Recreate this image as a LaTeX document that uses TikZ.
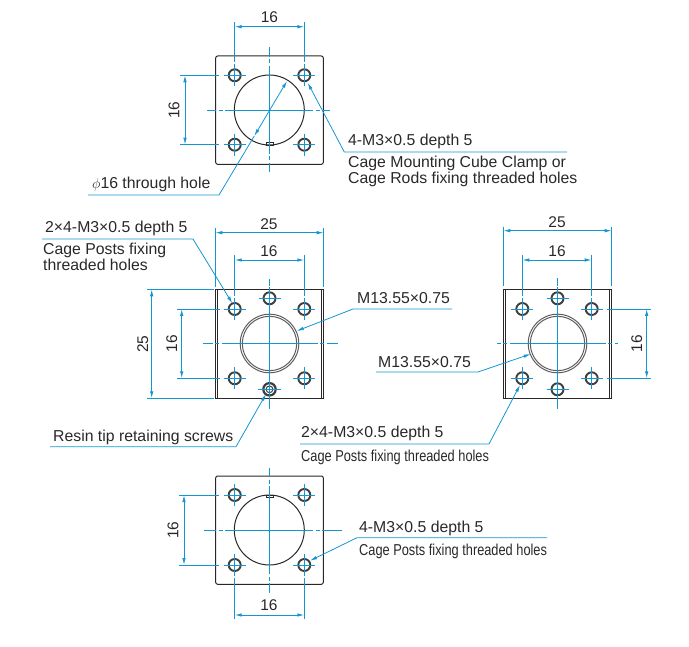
\documentclass[tikz,border=0pt]{standalone}
\usepackage{fontspec}
\setmainfont{Liberation Sans}
\newfontfamily\condfont[FakeStretch=0.81]{Liberation Sans}
\usetikzlibrary{arrows.meta}
\definecolor{dimblue}{HTML}{1496D2}
\definecolor{inkgrey}{HTML}{2B2728}
\tikzset{
  plate/.style={draw=inkgrey,line width=1pt},
  boltring/.style={draw=inkgrey!90,line width=1.9pt},
  portring/.style={draw=inkgrey!75,line width=1pt},
  dimline/.style={dimblue,line width=0.9pt,{Latex[length=7pt,width=3.5pt]}-{Latex[length=7pt,width=3.5pt]}},
  extline/.style={dimblue,line width=0.9pt},
  leaderline/.style={dimblue,line width=0.8pt,-{Latex[length=7pt,width=3.5pt]}},
  dimlabel/.style={inkgrey,inner sep=0pt,font=\fontsize{15.5}{17}\selectfont},
  notelabel/.style={inkgrey,inner sep=0pt,anchor=base west,font=\fontsize{15.8}{18}\selectfont},
  smalllabel/.style={inkgrey,inner sep=0pt,anchor=base west,font=\condfont\fontsize{15.8}{18}\selectfont}
}
% one threaded hole with its short cross mark
\newcommand{\bolthole}[2]{
  \draw[boltring,fill=white] (#1,#2) circle (6);
  \draw[extline] (#1-11,#2) -- (#1+11,#2) (#1,#2-11) -- (#1,#2+11);
}
% centre lines of a view, broken once on each arm: cx, cy, left, right, top, bottom, break distance
\newcommand{\viewaxes}[7]{
  \draw[extline] (#1-#7,#2) -- (#1+#7,#2) (#1,#2-#7) -- (#1,#2+#7);
  \draw[extline] (#1-#7-2.5,#2) -- (#1-#7-6.5,#2) (#1-#7-9,#2) -- (#3,#2);
  \draw[extline] (#1+#7+2.5,#2) -- (#1+#7+6.5,#2) (#1+#7+9,#2) -- (#4,#2);
  \draw[extline] (#1,#2-#7-2.5) -- (#1,#2-#7-6.5) (#1,#2-#7-9) -- (#1,#5);
  \draw[extline] (#1,#2+#7+2.5) -- (#1,#2+#7+6.5) (#1,#2+#7+9) -- (#1,#6);
}
\begin{document}
\begin{tikzpicture}[x=1pt,y=-1pt]
  \useasboundingbox (0,0) rectangle (689,647);

  % top view
  \draw[plate,rounded corners=2pt] (215.7,56) rectangle (323.3,164.3);
  \draw[plate] (269.3,110) circle (35);
  \draw[plate,line width=0.6pt] (266,145) rectangle (273,142.5);
  \foreach \hx in {234.7,304.3}
    \foreach \hy in {75.3,144.7}
      {\bolthole{\hx}{\hy}}
  \viewaxes{269.3}{110}{207}{330}{47}{172}{44}
  \draw[extline] (234.7,22) -- (234.7,62) (304.3,22) -- (304.3,62);
  \draw[extline] (180,75.3) -- (219,75.3) (180,144.7) -- (219,144.7);
  \draw[dimline] (234.7,26.7) -- (304.3,26.7);
  \draw[dimline] (185,75.3) -- (185,144.7);
  \node[dimlabel] (topwidth) at (269.5,17.5) {16};
  \node[dimlabel,rotate=90] (topheight) at (174,110) {16};

  \coordinate (thruend) at (88,195);
  \coordinate (thrubend) at (219,195);
  \draw[leaderline,{Latex[length=7pt,width=3.5pt]}-{Latex[length=7pt,width=3.5pt]}] (254.3,136) -- (287,81);
  \draw[extline,line width=0.8pt] (thruend) -- (thrubend) -- (254.3,136);
  \node[notelabel] (thrulabel) at (92,189) {$\phi$16 through hole};

  \coordinate (cubeend) at (567,152);
  \coordinate (cubebend) at (344.3,152);
  \coordinate (cubetip) at (307.7,82.7);
  \draw[leaderline] (cubeend) -- (cubebend) -- (cubetip);
  \node[notelabel] (cubethread) at (348,146) {4-M3×0.5 depth 5};
  \node[notelabel] (cubeclamp) at (348,168) {Cage Mounting Cube Clamp or};
  \node[notelabel] (cuberods) at (348,184) {Cage Rods fixing threaded holes};

  % left middle view
  \draw[plate] (215.3,289.3) rectangle (323.7,398.3);
  \draw[plate,line width=0.5pt] (217.7,289.3) -- (217.7,398.3) (321.7,289.3) -- (321.7,398.3);
  \draw[portring] (269.5,343.5) circle (29.3) circle (27.2);
  \foreach \hx in {234.7,304.3}
    \foreach \hy in {309,378.3}
      {\bolthole{\hx}{\hy}}
  \bolthole{269.5}{298.3}
  \viewaxes{269.5}{343.5}{203}{338}{279}{409}{48}
  \draw[boltring,line width=2.2pt] (269.5,389.3) circle (6.2);
  \draw[boltring,line width=1pt] (269.5,389.3) circle (3.4);
  \draw[extline] (269.5,378) -- (269.5,400) (258,389.3) -- (281,389.3);
  \draw[extline] (215.3,228) -- (215.3,287) (323.7,228) -- (323.7,287);
  \draw[extline] (234.7,255) -- (234.7,296) (304.3,255) -- (304.3,296);
  \draw[extline] (147,289.3) -- (214,289.3) (147,398.3) -- (214,398.3);
  \draw[extline] (177,309) -- (220,309) (177,378.3) -- (220,378.3);
  \draw[dimline] (215.3,232.7) -- (323.7,232.7);
  \draw[dimline] (234.7,260) -- (304.3,260);
  \draw[dimline] (151.7,289.3) -- (151.7,398.3);
  \draw[dimline] (181.7,309) -- (181.7,378.3);
  \node[dimlabel] (midwidth) at (269,224) {25};
  \node[dimlabel] (midpitch) at (269,251) {16};
  \node[dimlabel,rotate=90] (midheight) at (142.7,344) {25};
  \node[dimlabel,rotate=90] (midrise) at (171.7,343.5) {16};

  \coordinate (postend) at (42,239);
  \coordinate (postbend) at (193,239);
  \draw[leaderline] (postend) -- (postbend) -- (232.3,303.3);
  \node[notelabel] (postthread) at (45,232.5) {2×4-M3×0.5 depth 5};
  \node[notelabel] (postfix) at (43,255) {Cage Posts fixing};
  \node[notelabel] (postholes) at (43,271) {threaded holes};

  \coordinate (portend) at (452,309);
  \coordinate (portbend) at (353,309);
  \draw[leaderline] (portend) -- (portbend) -- (296.7,331);
  \node[notelabel] (portlabel) at (357,304) {M13.55×0.75};

  \coordinate (resinend) at (50,446.7);
  \coordinate (resinbend) at (236,446.7);
  \draw[leaderline] (resinend) -- (resinbend) -- (266,394);
  \node[notelabel] (resinlabel) at (53,442) {Resin tip retaining screws};

  % right middle view
  \draw[plate] (503.3,289.3) rectangle (611.7,398.3);
  \draw[plate,line width=0.5pt] (505.3,289.3) -- (505.3,398.3) (609.3,289.3) -- (609.3,398.3);
  \draw[portring] (557.5,343.5) circle (29.3) circle (27.2);
  \foreach \hx in {522.3,591.7}
    \foreach \hy in {309,378.3}
      {\bolthole{\hx}{\hy}}
  \bolthole{557.5}{298.3}
  \bolthole{557.5}{389.3}
  \viewaxes{557.5}{343.5}{497}{618}{278}{409}{48}
  \draw[extline] (503.3,226.7) -- (503.3,286) (611.7,226.7) -- (611.7,286);
  \draw[extline] (522.3,255) -- (522.3,296) (591.7,255) -- (591.7,296);
  \draw[extline] (607,309) -- (651,309) (607,378.3) -- (651,378.3);
  \draw[dimline] (503.3,230.7) -- (611.7,230.7);
  \draw[dimline] (522.3,260) -- (591.7,260);
  \draw[dimline] (646.7,309) -- (646.7,378.3);
  \node[dimlabel] (rightwidth) at (557,222) {25};
  \node[dimlabel] (rightpitch) at (557,251) {16};
  \node[dimlabel,rotate=90] (rightrise) at (636.7,343.5) {16};

  \coordinate (rportend) at (376,372);
  \coordinate (rportbend) at (478,372);
  \draw[leaderline] (rportend) -- (rportbend) -- (530.7,354);
  \node[notelabel] (rportlabel) at (378,368) {M13.55×0.75};

  \coordinate (rpostend) at (300,444);
  \coordinate (rpostbend) at (489,444);
  \draw[leaderline] (rpostend) -- (rpostbend) -- (520,385);
  \node[notelabel] (rpostthread) at (301,438) {2×4-M3×0.5 depth 5};
  \node[smalllabel] (rpostfix) at (301,461) {Cage Posts fixing threaded holes};

  % bottom view
  \draw[plate,rounded corners=2pt] (215.7,476) rectangle (323.3,584.3);
  \draw[plate] (269.3,530) circle (35);
  \draw[plate,line width=0.6pt] (266,495) rectangle (273,497.5);
  \foreach \hx in {234.7,304.3}
    \foreach \hy in {495,565}
      {\bolthole{\hx}{\hy}}
  \viewaxes{269.3}{530}{204}{342}{468}{593}{44}
  \draw[extline] (234.7,578) -- (234.7,619) (304.3,578) -- (304.3,619);
  \draw[extline] (179,495) -- (219,495) (179,565) -- (219,565);
  \draw[dimline] (234.7,615) -- (304.3,615);
  \draw[dimline] (184,495) -- (184,565);
  \node[dimlabel] (lowwidth) at (269,605) {16};
  \node[dimlabel,rotate=90] (lowheight) at (173,530) {16};

  \coordinate (lowend) at (547,537.7);
  \coordinate (lowbend) at (357,537.7);
  \draw[leaderline] (lowend) -- (lowbend) -- (310,560.7);
  \node[notelabel] (lowthread) at (359,532) {4-M3×0.5 depth 5};
  \node[smalllabel] (lowfix) at (359,555) {Cage Posts fixing threaded holes};
\end{tikzpicture}
\end{document}
